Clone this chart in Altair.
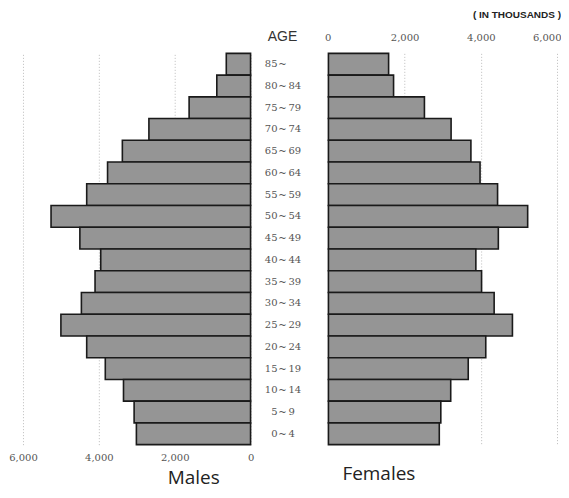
import altair as alt
import pandas as pd

age_labels = ["85 ~", "80 ~ 84", "75 ~ 79", "70 ~ 74", "65 ~ 69", "60 ~ 64",
              "55 ~ 59", "50 ~ 54", "45 ~ 49", "40 ~ 44", "35 ~ 39", "30 ~ 34",
              "25 ~ 29", "20 ~ 24", "15 ~ 19", "10 ~ 14", "5 ~ 9", "0 ~ 4"]
age_from = ["85", "80", "75", "70", "65", "60", "55", "50", "45", "40", "35",
            "30", "25", "20", "15", "10", "5", "0"]
age_to = ["", "84", "79", "74", "69", "64", "59", "54", "49", "44", "39",
          "34", "29", "24", "19", "14", "9", "4"]
males = [640, 890, 1620, 2680, 3380, 3770, 4320, 5260, 4500, 3950, 4100,
         4460, 5000, 4320, 3830, 3350, 3070, 3010]
females = [1580, 1710, 2520, 3220, 3740, 3980, 4440, 5230, 4460, 3870, 4020,
           4350, 4830, 4130, 3670, 3210, 2950, 2910]
tick_values = [0, 2000, 4000, 6000]

df = pd.DataFrame({"age": age_labels, "lo": age_from, "hi": age_to,
                   "male": males, "female": females})

H = 392
yenc = alt.Y("age:N", sort=age_labels, axis=None,
             scale=alt.Scale(paddingInner=0, paddingOuter=0))
bar_style = dict(fill="#959595", stroke="#1a1a1a", strokeWidth=1.6)
axis_common = dict(values=tick_values, format=",.0f", title=None, domain=False,
                   ticks=False, labelFont="DejaVu Serif", labelFontSize=10,
                   labelColor="#555555", grid=True,
                   gridDash=[1, 2], gridColor="#bbbbbb")

left = alt.Chart(df).mark_bar(**bar_style).encode(
    x=alt.X("male:Q", scale=alt.Scale(domain=[0, 6000], reverse=True, nice=False),
            axis=alt.Axis(orient="bottom", labelPadding=8, labelFlush=False, **axis_common)),
    y=yenc,
).properties(width=228, height=H,
             title=alt.TitleParams("Males", orient="bottom", anchor="middle", dx=57,
                                   offset=6, fontSize=19, font="Open Sans",
                                   fontWeight="normal", color="#222222"))

right = alt.Chart(df).mark_bar(**bar_style).encode(
    x=alt.X("female:Q", scale=alt.Scale(domain=[0, 6000], nice=False),
            axis=alt.Axis(orient="top", labelPadding=11, labelFlush=True,
                          labelFlushOffset=4, **axis_common)),
    y=yenc,
)

fem_title = alt.Chart(df).mark_text(
    align="left", baseline="middle", fontSize=19, font="Open Sans", color="#222222"
).encode(x=alt.value(14), y=alt.value(H + 29), text=alt.value("Females")).transform_filter(
    alt.datum.age == "0 ~ 4")

right_layer = alt.layer(right, fem_title).properties(
    width=229, height=H,
    title=alt.TitleParams("( IN THOUSANDS )", orient="top", anchor="end",
                          offset=12, fontSize=10, font="Liberation Sans",
                          fontWeight="bold", color="#222222"))

text_style = dict(font="DejaVu Serif", fontSize=10, color="#555555", baseline="middle")
mid_base = alt.Chart(df).encode(y=yenc)
lo_t = mid_base.mark_text(align="right", **text_style).encode(x=alt.value(27), text="lo:N")
tilde = mid_base.mark_text(align="center", **text_style).encode(x=alt.value(32), text=alt.value("~"))
hi_t = mid_base.mark_text(align="left", **text_style).encode(x=alt.value(38), text="hi:N")
mid = alt.layer(lo_t, tilde, hi_t).properties(
    width=78, height=H,
    title=alt.TitleParams("AGE", orient="top", anchor="middle", dx=-7, offset=9,
                          fontSize=14, font="Liberation Sans", fontWeight="normal",
                          color="#333333"))

chart = alt.hconcat(left, mid, right_layer, spacing=0, bounds="flush").properties(
    padding={"left": 0, "top": 2, "right": 0, "bottom": 2}
).configure_view(stroke=None)

chart.save("out.html", embed_options={"renderer": "svg", "actions": False})
